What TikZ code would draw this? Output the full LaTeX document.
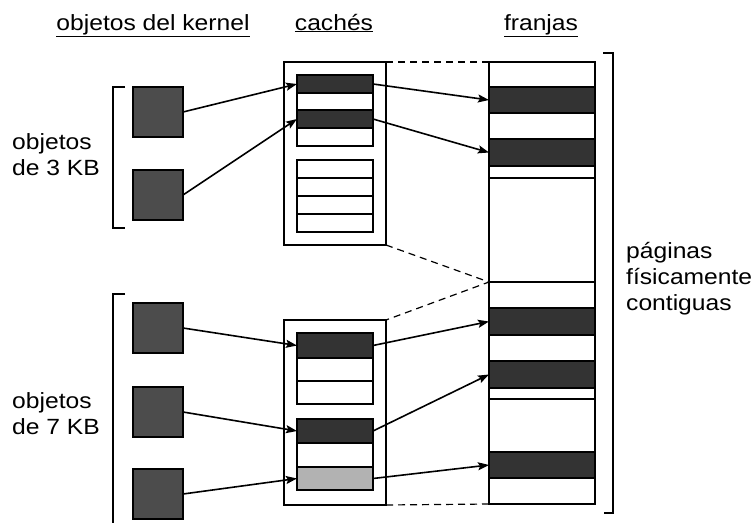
\documentclass[tikz,border=0pt]{standalone}
\usepackage{fontspec}
\newfontfamily\labelfont[FakeStretch=1.12]{Liberation Sans}
\usetikzlibrary{arrows.meta, positioning}

\begin{document}
\begin{tikzpicture}[
    x=1pt, y=-1pt,
    every node/.style={font=\labelfont\fontsize{22}{26}\selectfont},
    obj/.style={draw, fill=black!70, minimum width=50pt, minimum height=50pt, inner sep=0pt, outer sep=0pt, line width=1.3pt},
    slot/.style={draw, fill=white, minimum width=76pt, inner sep=0pt, outer sep=0pt, line width=1.3pt},
    full/.style={fill=black!80},
    half/.style={fill=black!30},
    band/.style={draw, fill=black!80, minimum width=106pt, inner sep=0pt, outer sep=0pt, line width=1.3pt},
    box/.style={draw, inner sep=0pt, outer sep=0pt, line width=1.3pt},
    link/.style={-{Stealth[length=11pt, width=8pt, inset=2pt]}, line width=1.6pt},
    head/.style={anchor=base},
]
  \useasboundingbox (0,0) rectangle (755,523);

  % Headings
  \node[head] (hk) at (153,30) {\underline{objetos del kernel}};
  \node[head] (hc) at (334,30) {\underline{cachés}};
  \node[head] (hf) at (541,30) {\underline{franjas}};

  % Kernel objects (left)
  \node[anchor=west, align=left, inner sep=0pt] (l3) at (12,155) {objetos\\de 3 KB};
  \node[anchor=west, align=left, inner sep=0pt] (l7) at (12,414) {objetos\\de 7 KB};
  \draw[line width=1.3pt] (125,87) -- (113,87) -- (113,228) -- (125,228);
  \draw[line width=1.3pt] (125,294) -- (113,294) -- (113,523);

  \node[obj] (o1) at (158,112) {};
  \node[obj] (o2) at (158,195) {};
  \node[obj] (o3) at (158,328) {};
  \node[obj] (o4) at (158,412) {};
  \node[obj] (o5) at (158,494) {};

  % Caches (center)
  \node[box, minimum width=102pt, minimum height=183pt] (cache1) at (335,153.5) {};
  \node[slot, full, minimum height=18pt] (s1) at (335,84) {};
  \node[slot, minimum height=17pt, below=0pt of s1] (s2) {};
  \node[slot, full, minimum height=18pt, below=0pt of s2] (s3) {};
  \node[slot, minimum height=18pt, below=0pt of s3] (s4) {};
  \node[slot, minimum height=18pt] (e1) at (335,169) {};
  \foreach \i [count=\j from 2] in {1,2,3}
    \node[slot, minimum height=18pt, below=0pt of e\i] (e\j) {};

  \node[box, minimum width=102pt, minimum height=185pt] (cache2) at (335,412.5) {};
  \node[slot, full, minimum height=25pt] (b1) at (335,345.5) {};
  \node[slot, minimum height=23pt, below=0pt of b1] (b2) {};
  \node[slot, minimum height=23pt, below=0pt of b2] (b3) {};
  \node[slot, full, minimum height=24pt] (c1) at (335,431) {};
  \node[slot, minimum height=24pt, below=0pt of c1] (c2) {};
  \node[slot, half, minimum height=23pt, below=0pt of c2] (c3) {};

  % Slabs (right)
  \node[box, minimum width=106pt, minimum height=442pt] (fr) at (542,283) {};
  \node[band, minimum height=26pt] (f1) at (542,100) {};
  \node[band, minimum height=27pt] (f2) at (542,152.5) {};
  \node[band, minimum height=27pt] (f3) at (542,321.5) {};
  \node[band, minimum height=27pt] (f4) at (542,374.5) {};
  \node[band, minimum height=26pt] (f5) at (542,465) {};
  \coordinate (slab) at (fr.west |- 0,282);
  \draw[line width=1.3pt] (fr.west |- 0,178) -- (fr.east |- 0,178);
  \draw[line width=1.3pt] (slab) -- (fr.east |- slab);
  \draw[line width=1.3pt] (fr.west |- 0,399) -- (fr.east |- 0,399);

  \draw[line width=1.3pt] (603,53) -- (613,53) -- (613,513) -- (604,513);
  \node[anchor=west, align=left, inner sep=0pt] (pg) at (626,279) {páginas\\físicamente\\contiguas};

  % Dashed slab outlines
  \draw[line width=1.2pt, dash pattern=on 7pt off 5pt] (cache1.north east) -- (fr.north west);
  \draw[line width=1.2pt, dash pattern=on 7pt off 5pt] (cache1.south east) -- (slab) -- (cache2.north east);
  \draw[line width=1.2pt, dash pattern=on 7pt off 5pt] (cache2.south east) -- (fr.south west);

  % Arrows
  \draw[link] (o1.east) -- (s1.west);
  \draw[link] (o2.east) -- (s3.west);
  \draw[link] (s1.east) -- (f1.west);
  \draw[link] (s3.east) -- (f2.west);
  \draw[link] (o3.east) -- (b1.west);
  \draw[link] (o4.east) -- (c1.west);
  \draw[link] (o5.east) -- (c3.west);
  \draw[link] (b1.east) -- (f3.west);
  \draw[link] (c1.east) -- (f4.west);
  \draw[link] (c3.east) -- (f5.west);
\end{tikzpicture}
\end{document}
